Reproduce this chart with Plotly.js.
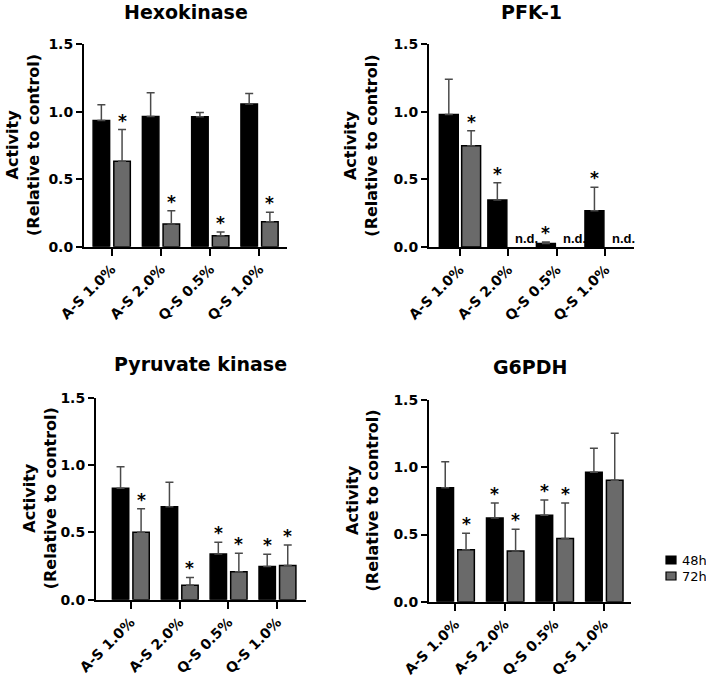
<!DOCTYPE html>
<html>
<head>
<meta charset="utf-8">
<script src="https://cdn.plot.ly/plotly-3.0.1.min.js"></script>
<style>
  html, body { margin: 0; padding: 0; background: #fff; }
  #chart { width: 706px; height: 677px; }
</style>
</head>
<body>
<div id="chart"></div>
<script>
// ---------------- DATA ----------------
const categories = ['A-S 1.0%', 'A-S 2.0%', 'Q-S 0.5%', 'Q-S 1.0%'];
const seriesNames = ['48h', '72h'];
const panelTitles = ['Hexokinase', 'PFK-1', 'Pyruvate kinase', 'G6PDH'];
const yTickVals = [0, 0.5, 1.0, 1.5];
const yTickText = ['0.0', '0.5', '1.0', '1.5'];

// Hexokinase
const hexo48 = [0.935, 0.965, 0.963, 1.057];
const hexo48Err = [0.117, 0.176, 0.032, 0.079];
const hexo72 = [0.633, 0.169, 0.082, 0.184];
const hexo72Err = [0.235, 0.097, 0.027, 0.072];
const hexo48Sig = [0, 0, 0, 0];
const hexo72Sig = [1, 1, 1, 1];

// PFK-1 (null = n.d.)
const pfk48 = [0.980, 0.347, 0.025, 0.268];
const pfk48Err = [0.261, 0.129, 0.012, 0.174];
const pfk72 = [0.749, null, null, null];
const pfk72Err = [0.112, null, null, null];
const pfk48Sig = [0, 1, 1, 1];
const pfk72Sig = [1, 0, 0, 0];

// Pyruvate kinase
const pk48 = [0.828, 0.691, 0.339, 0.247];
const pk48Err = [0.160, 0.182, 0.087, 0.090];
const pk72 = [0.501, 0.107, 0.207, 0.254];
const pk72Err = [0.175, 0.058, 0.137, 0.152];
const pk48Sig = [0, 0, 1, 1];
const pk72Sig = [1, 1, 1, 1];

// G6PDH
const g6_48 = [0.848, 0.623, 0.643, 0.965];
const g6_48Err = [0.194, 0.113, 0.115, 0.177];
const g6_72 = [0.387, 0.377, 0.471, 0.905];
const g6_72Err = [0.122, 0.162, 0.265, 0.349];
const g6_48Sig = [0, 1, 1, 0];
const g6_72Sig = [1, 1, 1, 0];

// ---------------- STYLE / LAYOUT ----------------
const W = 706, H = 677;
const FONT = 'DejaVu Sans';
const COL48 = '#000000';
const COL72 = '#6a6a6a';
const ERRCOL = '#4a4a4a';
const px = v => v / W;
const py = v => 1 - v / H;

const panels = [
  { d48: hexo48, e48: hexo48Err, d72: hexo72, e72: hexo72Err, s48: hexo48Sig, s72: hexo72Sig,
    xpx: [84, 287], ypx: [44.3, 246.7], xr: [-0.56, 3.56], titleY: 12, yTitleX: 22.5,
    off48: -0.375, off72: 0.045, bw: 0.335 },
  { d48: pfk48, e48: pfk48Err, d72: pfk72, e72: pfk72Err, s48: pfk48Sig, s72: pfk72Sig,
    xpx: [429, 634], ypx: [44.3, 247], xr: [-0.633, 3.59], titleY: 12, yTitleX: 361,
    off48: -0.42, off72: 0.04, bw: 0.39 },
  { d48: pk48, e48: pk48Err, d72: pk72, e72: pk72Err, s48: pk48Sig, s72: pk72Sig,
    xpx: [96, 305.7], ypx: [397.7, 599.7], xr: [-0.71, 3.58], titleY: 363.7, yTitleX: 39.6,
    off48: -0.375, off72: 0.045, bw: 0.335 },
  { d48: g6_48, e48: g6_48Err, d72: g6_72, e72: g6_72Err, s48: g6_48Sig, s72: g6_72Sig,
    xpx: [429, 630.7], ypx: [400.3, 601.7], xr: [-0.53, 3.54], titleY: 367.3, yTitleX: 362.5,
    off48: -0.37, off72: 0.05, bw: 0.335 }
];

const traces = [];
const annotations = [];
const shapes = [];
const layout = {
  width: W, height: H,
  margin: { l: 0, r: 0, t: 0, b: 0 },
  paper_bgcolor: '#ffffff', plot_bgcolor: '#ffffff',
  barmode: 'overlay',
  showlegend: false,
  font: { family: FONT, color: '#000' }
};

panels.forEach((p, k) => {
  const n = k === 0 ? '' : String(k + 1);
  const xa = 'x' + n, ya = 'y' + n;
  const bar = (vals, errs, color, off, name) => ({
    type: 'bar', x: categories, y: vals, name: name,
    xaxis: xa, yaxis: ya,
    offset: off, width: p.bw,
    marker: { color: color, line: { color: '#000', width: 1.5 } },
    error_y: { type: 'data', array: errs, arrayminus: errs.map(() => 0), symmetric: false,
               color: ERRCOL, thickness: 1.5, width: 4 },
    hoverinfo: 'skip'
  });
  traces.push(bar(p.d48, p.e48, COL48, p.off48, seriesNames[0]));
  traces.push(bar(p.d72, p.e72, COL72, p.off72, seriesNames[1]));

  layout['xaxis' + n] = {
    domain: [px(p.xpx[0]), px(p.xpx[1])], anchor: ya,
    type: 'category', range: p.xr,
    showline: true, linecolor: '#000', linewidth: 2,
    ticks: 'outside', ticklen: 7, tickwidth: 2, tickcolor: '#000',
    tickangle: -45, showgrid: false, zeroline: false,
    tickfont: { family: FONT, size: 14, weight: 'bold', color: '#000' }
  };
  layout['yaxis' + n] = {
    domain: [py(p.ypx[1]), py(p.ypx[0])], anchor: xa,
    range: [0, 1.5], tickvals: yTickVals, ticktext: yTickText,
    showline: true, linecolor: '#000', linewidth: 2,
    ticks: 'outside', ticklen: 6, tickwidth: 2, tickcolor: '#000',
    showgrid: false, zeroline: false,
    tickfont: { family: FONT, size: 14, weight: 'bold', color: '#000' }
  };

  // panel title
  annotations.push({
    xref: 'paper', yref: 'paper',
    x: px((p.xpx[0] + p.xpx[1]) / 2), y: py(p.titleY),
    xanchor: 'center', yanchor: 'middle', showarrow: false,
    text: panelTitles[k],
    font: { family: FONT, size: 19, weight: 'bold', color: '#000' }
  });
  // y axis title
  annotations.push({
    xref: 'paper', yref: 'paper',
    x: px(p.yTitleX), y: py((p.ypx[0] + p.ypx[1]) / 2),
    xanchor: 'center', yanchor: 'middle', showarrow: false, textangle: -90,
    text: 'Activity<br>(Relative to control)',
    font: { family: FONT, size: 16, weight: 'bold', color: '#000' }
  });

  // significance stars and n.d. labels
  const addMarks = (vals, errs, sig, off) => {
    vals.forEach((v, i) => {
      if (v === null) {
        annotations.push({
          xref: xa, yref: ya, x: i + p.off72 + p.bw * 0.75 + 0.04, y: 0,
          xanchor: 'center', yanchor: 'bottom', showarrow: false, yshift: -1,
          text: 'n.d.',
          font: { family: 'Liberation Sans', size: 13, weight: 'bold', color: '#000' }
        });
      } else if (sig[i]) {
        annotations.push({
          xref: xa, yref: ya, x: i + off + p.bw / 2, y: v + errs[i],
          xanchor: 'center', yanchor: 'bottom', showarrow: false, yshift: -3,
          text: '*',
          font: { family: FONT, size: 17, weight: 'bold', color: '#000' }
        });
      }
    });
  };
  addMarks(p.d48, p.e48, p.s48, p.off48);
  addMarks(p.d72, p.e72, p.s72, p.off72);
});

// legend (drawn beside the last panel)
const legendItems = [
  { name: seriesNames[0], color: COL48, y: 560 },
  { name: seriesNames[1], color: COL72, y: 576 }
];
legendItems.forEach(it => {
  shapes.push({
    type: 'rect', xref: 'paper', yref: 'paper',
    x0: px(666), x1: px(676), y0: py(it.y + 4), y1: py(it.y - 4),
    fillcolor: it.color, line: { color: '#000', width: 1.2 }
  });
  annotations.push({
    xref: 'paper', yref: 'paper', x: px(679.5), y: py(it.y),
    xanchor: 'left', yanchor: 'middle', showarrow: false,
    text: it.name, font: { family: FONT, size: 13, color: '#000' }
  });
});

layout.annotations = annotations;
layout.shapes = shapes;

Plotly.newPlot('chart', traces, layout, { displayModeBar: false, staticPlot: true });
</script>
</body>
</html>
